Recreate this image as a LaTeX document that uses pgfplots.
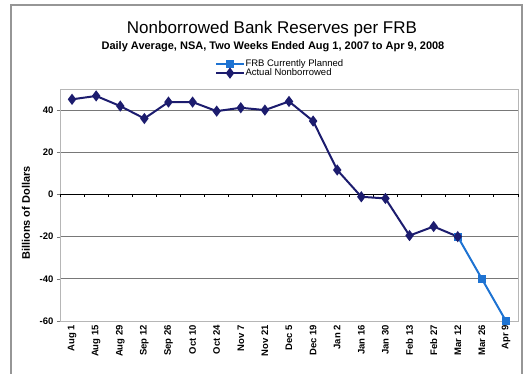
\documentclass[border=0pt]{standalone}
\usepackage{pgfplots}
\pgfplotsset{compat=1.18}
\usepackage{fontspec}
\setmainfont{Liberation Sans}
\definecolor{navy}{RGB}{28,28,110}
\definecolor{planned}{RGB}{30,115,210}
\definecolor{gridc}{RGB}{120,120,120}
\definecolor{framec}{RGB}{150,150,150}
\begin{document}
\begin{tikzpicture}[x=1pt,y=1pt]
\useasboundingbox (0,0) rectangle (523,374);
\draw[framec, line width=1.2pt] (11,-5) rectangle (522,369);
\node[font=\fontsize{17}{17}\selectfont] at (272,345) {Nonborrowed Bank Reserves per FRB};
\node[font=\bfseries\fontsize{11}{11}\selectfont] at (273,327) {Daily Average, NSA, Two Weeks Ended Aug 1, 2007 to Apr 9, 2008};
\begin{axis}[at={(60pt,53pt)}, anchor=south west, scale only axis,
  width=458pt, height=232pt,
  xmin=-0.5, xmax=18.5, ymin=-60, ymax=50,
  ytick={-60,-40,-20,0,20,40},
  yticklabels={-60,-40,-20,0,20,40},
  xtick={0,...,18},
  xticklabels={Aug 1,Aug 15,Aug 29,Sep 12,Sep 26,Oct 10,Oct 24,Nov 7,Nov 21,Dec 5,Dec 19,Jan 2,Jan 16,Jan 30,Feb 13,Feb 27,Mar 12,Mar 26,Apr 9},
  xticklabel style={rotate=90, anchor=east, font=\bfseries\fontsize{9.5}{9.5}\selectfont, inner sep=1pt},
  yticklabel style={font=\bfseries\fontsize{9.5}{9.5}\selectfont},
  major x tick style={draw=none},
  ytick pos=left, tick align=outside, major tick length=3pt,
  y tick style={gridc},
  ymajorgrids, grid style={gridc, line width=0.9pt},
  axis line style={framec!70, line width=0.8pt},
  ylabel={\bfseries Billions of Dollars},
  ylabel style={font=\fontsize{11}{11}\selectfont, at={(ticklabel cs:0.465)}, yshift=3pt},
  legend style={at={(0.338,1.13)}, anchor=north west, draw=none, fill=none,
    font=\fontsize{9.5}{9.5}\selectfont, row sep=0pt, inner sep=0pt,
    nodes={inner sep=0.5pt}},
  legend cell align=left,
  legend image code/.code={\draw[mark repeat=2,mark phase=2,#1] plot coordinates {(0pt,0pt) (14pt,0pt) (28pt,0pt)};},
  clip=false,
]
\draw[black, line width=1.1pt] (axis cs:-0.5,0) -- (axis cs:18.5,0);
\pgfplotsinvokeforeach{0,...,19}{\draw[black, line width=0.9pt] (axis cs:{#1-0.5},0) -- ++(0pt,-3pt);}
\addplot[planned, line width=2pt, mark=square*, mark size=3pt, mark options={solid}] coordinates {
(16,-20) (17,-40) (18,-60)};
\addlegendentry{FRB Currently Planned}
\addplot[navy, line width=2pt, mark=diamond*, mark size=4pt] coordinates {
(0,45.1) (1,46.7) (2,41.9) (3,36) (4,43.8) (5,43.8) (6,39.5) (7,41.1) (8,40)
(9,44.1) (10,34.8) (11,11.6) (12,-1.1) (13,-1.9) (14,-19.5) (15,-15.2) (16,-20)};
\addlegendentry{Actual Nonborrowed}
\end{axis}
\end{tikzpicture}
\end{document}
